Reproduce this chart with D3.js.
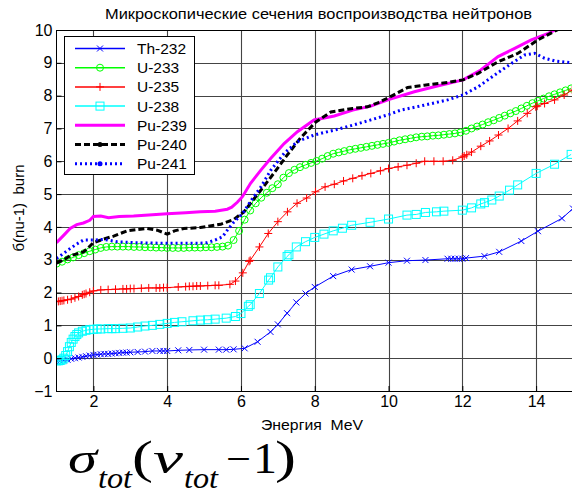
<!DOCTYPE html>
<html>
<head>
<meta charset="utf-8">
<script src="https://cdn.jsdelivr.net/npm/d3@7"></script>
<style>
body { margin: 0; background: #fff; }
text { font-family: "Liberation Sans", Arial, sans-serif; }
text.serif { font-family: "Liberation Serif", "Times New Roman", serif; }
</style>
</head>
<body>
<script>
// data
var names = ["Th-232", "U-233", "U-235", "U-238", "Pu-239", "Pu-240", "Pu-241"];
var xTicks = [2, 4, 6, 8, 10, 12, 14];
var yTicks = [-1, 0, 1, 2, 3, 4, 5, 6, 7, 8, 9, 10];

var thE = [1.0,1.1,1.2,1.3,1.4,1.5,1.6,1.7,1.8,1.9,2.0,2.1,2.2,2.3,2.4,2.5,2.6,2.7,2.8,2.9,3.0,3.2,3.4,3.6,3.8,3.9,4.0,4.3,4.6,5.0,5.4,5.6,5.8,6.1,6.45,6.8,7.0,7.25,7.5,7.75,8.0,8.5,9.0,9.5,10.0,10.5,11.0,11.6,11.7,11.8,11.9,12.0,12.1,12.6,13.0,13.6,14.05,14.7,15.0];
var thV = [-0.08,-0.08,-0.07,-0.05,-0.02,0.0,0.02,0.04,0.06,0.08,0.1,0.11,0.12,0.13,0.13,0.14,0.15,0.16,0.17,0.17,0.18,0.19,0.2,0.22,0.22,0.22,0.22,0.24,0.25,0.26,0.26,0.26,0.27,0.3,0.5,0.8,1.03,1.37,1.7,1.97,2.17,2.5,2.7,2.8,2.91,2.97,2.99,3.03,3.03,3.03,3.03,3.03,3.05,3.11,3.24,3.57,3.87,4.26,4.56];

var u233E = [1.00,1.15,1.30,1.45,1.60,1.75,1.90,2.05,2.20,2.35,2.50,2.65,2.80,2.95,3.10,3.25,3.40,3.55,3.70,3.85,4.00,4.15,4.30,4.45,4.60,4.75,4.90,5.05,5.20,5.35,5.50,5.65,5.80,5.95,6.10,6.25,6.40,6.55,6.70,6.85,7.00,7.15,7.30,7.45,7.60,7.75,7.90,8.05,8.20,8.35,8.50,8.65,8.80,8.95,9.10,9.25,9.40,9.55,9.70,9.85,10.00,10.15,10.30,10.45,10.60,10.75,10.90,11.05,11.20,11.35,11.50,11.65,11.80,11.95,12.10,12.25,12.40,12.55,12.70,12.85,13.00,13.15,13.30,13.45,13.60,13.75,13.90,14.05,14.20,14.35,14.50,14.65,14.80,14.95];
var u233V = [2.88,2.94,3.01,3.07,3.14,3.20,3.26,3.31,3.36,3.39,3.40,3.40,3.40,3.40,3.39,3.39,3.38,3.38,3.37,3.37,3.36,3.36,3.36,3.36,3.37,3.37,3.37,3.38,3.38,3.39,3.40,3.43,3.60,3.88,4.22,4.50,4.72,4.89,5.04,5.18,5.30,5.50,5.64,5.74,5.82,5.89,5.95,6.01,6.08,6.16,6.23,6.27,6.31,6.35,6.38,6.41,6.44,6.47,6.50,6.53,6.56,6.60,6.64,6.67,6.70,6.73,6.75,6.76,6.78,6.79,6.81,6.83,6.85,6.88,6.93,7.00,7.06,7.12,7.19,7.25,7.32,7.39,7.46,7.53,7.61,7.69,7.77,7.84,7.91,7.98,8.04,8.10,8.16,8.22];

var u235E = [1.0,1.05,1.1,1.15,1.2,1.3,1.4,1.5,1.6,1.7,1.75,1.8,1.9,2.0,2.2,2.4,2.6,2.8,2.9,3.0,3.1,3.3,3.5,3.7,3.8,3.9,4.0,4.3,4.5,4.6,4.7,4.8,4.9,5.1,5.3,5.4,5.7,5.85,6.05,6.22,6.25,6.5,6.74,7.0,7.26,7.52,7.78,8.02,8.28,8.53,8.78,9.03,9.28,9.52,9.78,10.0,10.26,10.5,10.75,10.98,11.23,11.48,11.74,12.0,12.05,12.12,12.25,12.5,12.74,12.98,13.24,13.5,13.76,13.99,14.03,14.23,14.5,14.76,14.98];
var u235V = [1.72,1.73,1.74,1.75,1.76,1.78,1.80,1.84,1.88,1.93,1.95,1.97,2.01,2.05,2.08,2.09,2.10,2.11,2.11,2.12,2.12,2.13,2.14,2.14,2.14,2.15,2.15,2.17,2.18,2.19,2.19,2.2,2.2,2.21,2.22,2.22,2.25,2.35,2.6,2.95,2.98,3.39,3.8,4.16,4.46,4.72,4.88,5.07,5.22,5.3,5.4,5.48,5.56,5.63,5.71,5.78,5.83,5.88,5.94,6.0,6.0,6.0,6.03,6.13,6.16,6.2,6.28,6.46,6.62,6.8,7.0,7.23,7.46,7.66,7.68,7.76,7.87,8.02,8.17];

var u238E = [1.0,1.05,1.1,1.15,1.2,1.25,1.3,1.35,1.4,1.45,1.5,1.55,1.6,1.7,1.8,1.9,2.0,2.1,2.2,2.4,2.5,2.6,2.8,3.0,3.2,3.4,3.6,3.8,4.0,4.2,4.4,4.7,4.9,5.1,5.3,5.6,5.85,6.0,6.2,6.25,6.5,6.75,6.8,7.0,7.25,7.3,7.5,7.75,8.0,8.25,8.5,8.75,9.0,9.5,10.0,10.5,10.75,11.0,11.3,11.5,12.0,12.25,12.5,12.6,12.8,13.0,13.28,13.5,14.0,14.5,14.95];
var u238V = [-0.08,-0.08,-0.07,-0.05,0.0,0.08,0.2,0.35,0.48,0.58,0.66,0.72,0.77,0.82,0.85,0.87,0.88,0.89,0.89,0.9,0.9,0.9,0.91,0.92,0.95,0.98,1.0,1.03,1.06,1.09,1.11,1.14,1.16,1.17,1.19,1.22,1.27,1.36,1.58,1.63,1.97,2.38,2.45,2.78,3.1,3.15,3.39,3.55,3.68,3.78,3.88,3.96,4.05,4.14,4.24,4.36,4.38,4.44,4.46,4.48,4.51,4.58,4.7,4.74,4.82,4.94,5.12,5.28,5.63,5.91,6.21];

var pu239E = [1.0,1.2,1.37,1.55,1.73,1.9,2.0,2.2,2.41,2.7,3.09,3.5,4.0,4.5,4.9,5.3,5.63,5.75,5.9,6.04,6.26,6.54,6.81,7.17,7.53,7.98,8.53,9.03,9.52,10.0,10.7,11.24,12.02,12.5,12.97,13.42,13.87,14.33,14.6,15.0];
var pu239V = [3.52,3.75,3.95,4.07,4.12,4.2,4.32,4.33,4.28,4.32,4.33,4.36,4.4,4.43,4.46,4.48,4.54,4.6,4.75,4.92,5.33,5.73,6.09,6.54,6.9,7.26,7.38,7.56,7.68,7.88,8.12,8.27,8.48,8.78,9.19,9.44,9.7,9.9,10.05,10.25];

var pu240E = [1.0,1.2,1.37,1.55,1.73,1.85,2.0,2.28,2.55,2.91,3.2,3.46,3.73,4.0,4.2,4.45,4.9,5.45,5.81,6.08,6.35,6.63,6.9,7.26,7.62,8.03,8.44,9.03,9.43,9.71,10.02,10.52,10.97,11.6,12.02,12.43,12.97,13.51,14.05,14.6,15.0];
var pu240V = [2.9,3.0,3.12,3.18,3.24,3.35,3.52,3.63,3.72,3.88,3.92,3.95,3.9,3.78,3.88,3.95,3.98,4.08,4.23,4.46,4.85,5.25,5.65,6.2,6.72,7.2,7.5,7.61,7.66,7.78,7.95,8.25,8.32,8.4,8.48,8.68,9.03,9.29,9.7,10.02,10.2];

var pu241E = [1.0,1.2,1.37,1.55,1.73,2.0,2.28,2.64,3.09,4.0,4.9,5.09,5.3,5.5,5.63,5.81,6.04,6.26,6.54,6.81,7.17,7.53,7.98,8.53,9.03,9.52,10.02,10.34,10.97,11.6,12.02,12.43,12.88,13.33,13.69,13.96,14.23,14.5,14.95];
var pu241V = [3.04,3.2,3.34,3.48,3.6,3.6,3.62,3.55,3.52,3.5,3.5,3.52,3.6,3.7,3.9,4.15,4.4,4.78,5.22,5.73,6.24,6.6,6.8,6.95,7.1,7.26,7.43,7.56,7.71,7.87,8.02,8.27,8.63,8.98,9.24,9.29,9.14,9.06,9.0];

var energies = [thE, u233E, u235E, u238E, pu239E, pu240E, pu241E];
var values = [thV, u233V, u235V, u238V, pu239V, pu240V, pu241V];

// look of each line
var styles = [
    {color: "#0000ff", width: 1, dash: null, marker: "x"},
    {color: "#00ff00", width: 1, dash: null, marker: "o"},
    {color: "#ff0000", width: 1, dash: null, marker: "+"},
    {color: "#00ffff", width: 1, dash: null, marker: "s"},
    {color: "#ff00ff", width: 3, dash: null, marker: null},
    {color: "#000000", width: 3, dash: "6,3", marker: "."},
    {color: "#0000ff", width: 3, dash: "2,3", marker: "."}
];

var svg = d3.select("body").append("svg")
    .attr("width", 572)
    .attr("height", 492)

var pLeft = 56.5, pRight = 573, pTop = 30, pBottom = 391;

var x = d3.scaleLinear().domain([1, 15]).range([pLeft, pRight]);
var y = d3.scaleLinear().domain([-1, 10]).range([pBottom, pTop]);

svg.append("clipPath").attr("id", "plotclip")
    .append("rect")
    .attr("x", pLeft).attr("y", pTop)
    .attr("width", pRight - pLeft).attr("height", pBottom - pTop)

// grid
var grid = svg.append("g").attr("stroke", "#444").attr("stroke-width", 1.1);
xTicks.forEach(function (t) {
    grid.append("line")
        .attr("x1", Math.round(x(t)) + 0.5).attr("x2", Math.round(x(t)) + 0.5)
        .attr("y1", pTop).attr("y2", pBottom)
});
yTicks.forEach(function (t) {
    grid.append("line")
        .attr("x1", pLeft).attr("x2", pRight)
        .attr("y1", Math.round(y(t)) + 0.5).attr("y2", Math.round(y(t)) + 0.5)
});

function drawMarker(g, type, cx, cy, color) {
    if (type == "x") {
        g.append("path")
            .attr("d", "M" + (cx - 3) + "," + (cy - 3) + "L" + (cx + 3) + "," + (cy + 3) +
                       "M" + (cx - 3) + "," + (cy + 3) + "L" + (cx + 3) + "," + (cy - 3))
            .attr("stroke", color).attr("stroke-width", 1).attr("fill", "none")
    } else if (type == "+") {
        g.append("path")
            .attr("d", "M" + (cx - 4) + "," + cy + "L" + (cx + 4) + "," + cy +
                       "M" + cx + "," + (cy - 4) + "L" + cx + "," + (cy + 4))
            .attr("stroke", color).attr("stroke-width", 1).attr("fill", "none")
    } else if (type == "o") {
        g.append("circle")
            .attr("cx", cx).attr("cy", cy).attr("r", 3.5)
            .attr("stroke", color).attr("stroke-width", 1).attr("fill", "none")
    } else if (type == "s") {
        g.append("rect")
            .attr("x", cx - 4).attr("y", cy - 4).attr("width", 8).attr("height", 8)
            .attr("stroke", color).attr("stroke-width", 1).attr("fill", "none")
    } else if (type == ".") {
        g.append("circle")
            .attr("cx", cx).attr("cy", cy).attr("r", 2.5)
            .attr("fill", color)
    }
}

var plot = svg.append("g").attr("clip-path", "url(#plotclip)");

var line = d3.line()
    .x(function (d) { return x(d[0]); })
    .y(function (d) { return y(d[1]); })

for (var s = 0; s < names.length; s++) {
    var pts = energies[s].map(function (e, i) { return [e, values[s][i]]; });
    var st = styles[s];
    plot.append("path")
        .datum(pts)
        .attr("d", line)
        .attr("fill", "none")
        .attr("stroke", st.color)
        .attr("stroke-width", st.width)
        .attr("stroke-dasharray", st.dash)
    if (st.marker && st.marker != ".") {
        pts.forEach(function (p) {
            drawMarker(plot, st.marker, x(p[0]), y(p[1]), st.color);
        });
    }
}

// axes
svg.append("g")
    .attr("transform", "translate(0," + pBottom + ")")
    .call(d3.axisBottom(x).tickValues(xTicks).tickSizeInner(-5).tickSizeOuter(0).tickPadding(5))
svg.append("g")
    .attr("transform", "translate(" + pLeft + ",0)")
    .call(d3.axisLeft(y).tickValues(yTicks).tickSizeInner(-5).tickSizeOuter(0).tickPadding(4))
svg.selectAll(".domain").remove();
svg.selectAll(".tick text")
    .attr("font-size", 16)
    .attr("fill", "#000")
svg.selectAll(".tick line").attr("stroke", "#000")

svg.append("rect")
    .attr("x", pLeft).attr("y", pTop + 0.5)
    .attr("width", pRight - pLeft).attr("height", pBottom - pTop)
    .attr("fill", "none").attr("stroke", "#000").attr("stroke-width", 1)

// titles
svg.append("text")
    .attr("x", 105).attr("y", 19)
    .attr("font-size", 15)
    .attr("textLength", 427)
    .attr("lengthAdjust", "spacingAndGlyphs")
    .text("Микроскопические сечения воспроизводства нейтронов")

svg.append("text")
    .attr("x", 261).attr("y", 430)
    .attr("font-size", 14.5)
    .attr("textLength", 102)
    .attr("lengthAdjust", "spacingAndGlyphs")
    .attr("xml:space", "preserve")
    .text("Энергия  MeV")

svg.append("text")
    .attr("transform", "translate(24,208) rotate(-90)")
    .attr("text-anchor", "middle")
    .attr("font-size", 15)
    .attr("xml:space", "preserve")
    .text("б(nu-1)  burn")

// legend
var legend = svg.append("g");
legend.append("rect")
    .attr("x", 64.5).attr("y", 36.5)
    .attr("width", 130).attr("height", 138)
    .attr("fill", "#fff").attr("stroke", "#000").attr("stroke-width", 1)
for (var s = 0; s < names.length; s++) {
    var ly = 48.5 + s * 19.2;
    var st = styles[s];
    legend.append("line")
        .attr("x1", 75).attr("x2", 125)
        .attr("y1", ly).attr("y2", ly)
        .attr("stroke", st.color)
        .attr("stroke-width", st.width == 1 ? 1.5 : st.width)
        .attr("stroke-dasharray", st.dash)
    if (st.marker) drawMarker(legend, st.marker, 100, ly, st.color);
    legend.append("text")
        .attr("x", 137).attr("y", ly + 5.5)
        .attr("font-size", 15.5)
        .text(names[s])
}

// formula below the chart
var f = svg.append("g");
function piece(txt, px, py, size, italic, len) {
    f.append("text").attr("class", "serif")
        .attr("x", px).attr("y", py)
        .attr("font-size", size)
        .attr("font-style", italic ? "italic" : "normal")
        .attr("textLength", len)
        .attr("lengthAdjust", "spacingAndGlyphs")
        .text(txt)
}
piece("σ", 68, 473, 44, true, 29);
piece("tot", 98, 487.5, 30, true, 34);
piece("(", 132, 473, 46, false, 21);
piece("ν", 153, 473, 44, true, 30);
piece("tot", 184, 487.5, 30, true, 34);
piece("−", 226, 473, 42, false, 25);
piece("1", 253, 473, 44, false, 24);
piece(")", 275, 473, 46, false, 21);
</script>
</body>
</html>
